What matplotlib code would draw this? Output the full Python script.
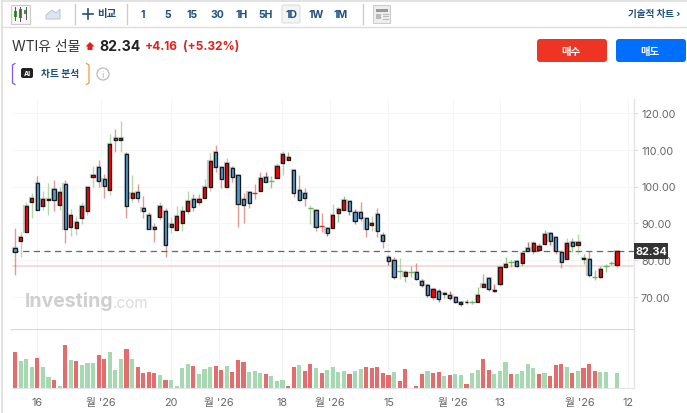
import matplotlib
matplotlib.use("Agg")
import matplotlib.pyplot as plt
from matplotlib.patches import Rectangle, FancyBboxPatch, Circle, Polygon

plt.rcParams['font.family'] = ['Inter', 'Noto Sans CJK KR', 'DejaVu Sans']

opens = [83.2, 85.3, 87.6, 95.8, 101, 94.6, 96.2, 99.3, 95, 100.8,
         88.9, 88.6, 91.5, 93.4, 102.7, 105.3, 102, 99.1, 113.2, 112.7,
         108.9, 97, 98.4, 94.1, 92.2, 88.9, 91.8, 93.3, 89.1, 88.2,
         90, 93.2, 96.7, 95.8, 97, 99.8, 109.4, 105.3, 99.8, 105,
         103, 96.5, 98.4, 98.2, 98.7, 102.5, 101.4, 102.2, 106.3, 107.2,
         104.4, 99.1, 98.2, 94.2, 93.7, 89.2, 88.6, 88.6, 92.7, 93.6,
         96, 93, 93.1, 91.5, 89.6, 92.4, 86.7, 80.7, 80, 77,
         75.6, 76.6, 76.6, 74.3, 73.3, 69.9, 71.7, 70.7, 70.4, 70,
         68.1, 68.5, 68.6, 68.7, 72.6, 75, 71.9, 73.6, 78.1, 79.4,
         79.6, 79.1, 83.2, 82.5, 82.8, 84.3, 87.3, 86.2, 82.1, 80.3,
         84.8, 84.2, 80.3, 80.3, 75.4, 75.3, 78.3, 79.1, 78.7]
closes = [82.1, 86.2, 94.6, 97, 93.6, 96.5, 96.5, 96.2, 98.4, 88.4,
          92.3, 90.4, 94.6, 99.8, 103.2, 101.5, 100.2, 111.7, 112.7, 113.2,
          94.6, 98.1, 96.8, 93.2, 88.3, 88.3, 94.8, 84.1, 89.8, 92.1,
          93.2, 96, 94.5, 96.5, 100, 107, 105.4, 102.1, 106.5, 102.5,
          95.3, 95, 95.6, 98.2, 102.4, 101.2, 101.4, 105.6, 108.9, 108,
          98.3, 96.4, 96.8, 94.2, 88.9, 89.2, 87.4, 92.3, 93.8, 96.2,
          93.2, 90.7, 91.4, 88.3, 90.2, 87.9, 85.1, 79.6, 75.5, 77,
          76.6, 76.6, 74.9, 73.3, 70.5, 72.1, 69.3, 70.9, 69.6, 68.7,
          68.7, 68.7, 68.6, 70.5, 73.6, 72.2, 71.5, 78.1, 78.8, 79.4,
          78.3, 81.9, 82.5, 84.5, 83.8, 87.2, 85.3, 82.5, 79.4, 84.5,
          83.8, 84.8, 80.5, 75.9, 75.4, 77.5, 78.3, 79.1, 82.4]
highs = [88.6, 87.5, 95.9, 98.2, 102.9, 98.7, 101, 101.9, 99.9, 101.9,
         93.9, 92.1, 95.7, 99.8, 105.7, 107.1, 103.4, 114.3, 115.6, 117.7,
         109.5, 103.1, 100.7, 97.3, 93, 90.2, 95.7, 94.2, 91.6, 94.6,
         94.6, 98.8, 98, 98, 102, 109.1, 111.3, 105.3, 107.8, 105.7,
         103, 98.2, 98.9, 100.7, 103.9, 103.9, 102.8, 106.4, 109.7, 109.5,
         104.8, 103.1, 99.7, 95, 93.7, 92.8, 88.9, 95.2, 94.3, 97.3,
         96, 93.9, 95.7, 91.5, 92, 94.1, 87.5, 81.4, 80.7, 80.5,
         77.3, 78.5, 79.1, 74.8, 73.5, 72.5, 72.1, 71.2, 71.7, 70.3,
         68.9, 69.4, 69.1, 72.6, 76.3, 75.3, 73.5, 78.1, 80.7, 80.1,
         80.1, 82.3, 84.8, 85.3, 84.5, 88.2, 87.5, 86.4, 82.8, 85.9,
         85.9, 87.1, 81.6, 82.4, 77.3, 78.5, 78.9, 79.6, 82.5]
lows = [75.9, 80.8, 87.6, 91.4, 93.6, 93.6, 92.3, 93.2, 93.7, 84.6,
        86.6, 86.8, 89.8, 92.2, 99.8, 100, 96.9, 97.8, 109.3, 109.5,
        91.3, 95.7, 95.9, 91.3, 88.3, 85, 90.9, 80.9, 87.4, 88.2,
        88, 92.5, 93.2, 95, 97, 98.9, 103.9, 99.7, 99.8, 101.3,
        89.1, 90.2, 94.2, 96.6, 98.7, 101.1, 99.7, 102.2, 103.1, 107.2,
        97.2, 96, 94.8, 89.8, 88, 87.5, 86.6, 88.6, 90.4, 93.6,
        92.2, 89.9, 90.7, 86.2, 87.8, 86.2, 83.4, 78.7, 74.9, 74.8,
        73.9, 75.5, 74.6, 72.7, 69.8, 69.2, 68.7, 69.7, 69.1, 68.2,
        67.4, 68, 68.1, 68.7, 72.6, 71.7, 71.2, 72.8, 77.9, 78.1,
        78, 78.3, 82.5, 81.6, 82.4, 84.3, 84.2, 81.6, 77.9, 80.3,
        82.1, 81.6, 78.9, 75.5, 74.5, 75, 76.8, 78.6, 77.8]
wick_kinds = ("rgggrggrgr" "gggggrrgrg" "rgrrrrgrgg" "ggrgggrrgr" "rrrrrrgggg"
              "rrrgrrrggg" "rrrrgrrrrg" "ggrrrgrgrr" "rggggrrggg" "rgrgggrrrg"
              "gggrggggg")

volumes = [108, 80, 87, 61, 90, 61, 32, 24, 6, 129, 82, 79, 69, 74, 74, 98, 85, 108, 53, 85,
           117, 85, 61, 45, 48, 45, 37, 24, 24, 6, 58, 72, 66, 42, 56, 63, 66, 53, 66,
           48, 82, 77, 48, 51, 45, 42, 35, 19, 24, 6, 63, 69, 51, 72, 58, 45, 53, 63, 48,
           51, 42, 51, 56, 61, 58, 63, 45, 37, 48, 19, 56, 0, 6, 40, 51, 45, 48, 35, 37, 40,
           37, 11, 45, 53, 87, 53, 42, 51, 77, 42, 40, 51, 72, 58, 40, 45, 35, 69, 72, 63,
           45, 51, 58, 72, 51, 48, 48, 0, 45]
vol_kinds = ("rgggrggrgr" "grgggrrggg" "rgrrrrgrgg" "ggrggg" "rrg"
             "rrrgggrgg" "grrgrrgrgg" "ggrggrrrrr" "grrrrrgrrg" "r"
             "ggrggrrgggrggggrgrrrgrgrrrggrg")[:109]

last_price = 82.34
prev_line = 78.3
price_ticks = [70, 80, 90, 100, 110, 120]
time_pos = [4, 15.4, 28, 36.6, 47.9, 56.5, 67, 78.6, 87, 101.4, 110]
time_labels = ["16", "월 '26", "20", "월 '26", "18", "월 '26", "15", "월 '26", "13", "월 '26", "12"]
intervals = ["1", "5", "15", "30", "1H", "5H", "1D", "1W", "1M"]
interval_x = [143, 168, 192, 217, 242, 266, 291, 316, 341]

W, H = 687, 414
fig = plt.figure(figsize=(W / 100, H / 100), dpi=100, facecolor="white")


def px_axes(x0, y0, x1, y1):
    return fig.add_axes([x0 / W, 1 - y1 / H, (x1 - x0) / W, (y1 - y0) / H])


def y_of(p):
    return 120 - (p - 114) / 3.675


xlim = (-0.54, 111.05)
ax = px_axes(12, 100, 634, 330.5)
vol = px_axes(12, 330.5, 634, 388.5)

ax.set_xlim(xlim)
ax.set_ylim(y_of(330.5), y_of(100))
vol.set_xlim(xlim)
vol.set_ylim(0, 174)

for p in price_ticks:
    ax.axhline(p, color="#f5f5f5", lw=0.8, zorder=0)
for t in time_pos:
    ax.axvline(t, color="#f5f5f5", lw=0.8, zorder=0)
    vol.axvline(t, color="#f2f2f2", lw=0.8, zorder=0)

ax.axhline(prev_line, color="#f9d0d0", lw=1.1, zorder=1)
ax.axhline(last_price, color="#666666", lw=0.9, dashes=(5, 3.5), zorder=2)

wick_col = {"r": "#c0392b", "g": "#6cb35a"}
for i in range(len(opens)):
    o, c = opens[i], closes[i]
    col = wick_col[wick_kinds[i]]
    span = highs[i] - lows[i]
    ax.vlines(i, lows[i], highs[i], color=col, lw=1.0, alpha=0.5 if span > 4 else 0.7, zorder=3)
    if o == c:
        ax.hlines(o, i - 0.5, i + 0.5, color=col, lw=1.0, zorder=4)
    else:
        # soft grey halo round each body, as in the screenshot
        ax.bar(i, abs(c - o), bottom=min(o, c), width=0.62, color="none",
               edgecolor="#888888", linewidth=1.6, alpha=0.45, zorder=4)
        ax.bar(i, abs(c - o), bottom=min(o, c), width=0.56,
               color="#ff0000" if c > o else "#4a9ad4",
               edgecolor="#1a1a1a", linewidth=0.9, zorder=5)

vol_col = {"r": "#e46c6c", "g": "#a6d8b2"}
vol.bar(range(len(volumes)), volumes, width=0.74, color=[vol_col[k] for k in vol_kinds], zorder=2)

for a in (ax, vol):
    for s in ("top", "left"):
        a.spines[s].set_visible(False)
    a.spines["right"].set_color("#e3e3e8")
    a.spines["right"].set_linewidth(1)
ax.spines["bottom"].set_color("#cfcfcf")
ax.spines["bottom"].set_linewidth(1.2)
vol.spines["bottom"].set_color("#e3e3e8")

ax.yaxis.tick_right()
ax.set_yticks(price_ticks, [f"{p:.2f}" for p in price_ticks])
ax.tick_params(axis="y", length=3, width=0.8, color="#dddddd", labelsize=7.8, labelcolor="#666666", pad=2)
ax.set_xticks([])
vol.set_yticks([])
vol.set_xticks(time_pos, time_labels)
vol.tick_params(axis="x", length=0, labelsize=7.8, labelcolor="#666666", pad=7)

# page furniture, in pixels
ov = fig.add_axes([0, 0, 1, 1], facecolor="none")
ov.set_xlim(0, W)
ov.set_ylim(H, 0)
ov.axis("off")

ov.text(25, 302, "Investing", fontsize=14, fontweight="bold", color="#cfcfcf", zorder=0, va="center")
ov.text(113, 304, ".com", fontsize=11, color="#dcdcdc", zorder=0, va="center")

ov.plot([2, 2], [0, H], color="#dddddd", lw=1.2)
ov.plot([2, W], [1.5, 1.5], color="#dddddd", lw=1.2)
ov.plot([2, W], [28, 28], color="#dddddd", lw=1.0)
for x in (74.5, 126.5, 362.5):
    ov.plot([x, x], [5, 25], color="#cccccc", lw=1)

ov.add_patch(Rectangle((10.5, 5.5), 19, 19, fc="#f6f6f6", ec="#cccccc", lw=0.8))
for x, y0, y1, top, bot, c in [(15, 8, 21, 12, 18, "#3a9a3a"), (20, 8, 22, 10, 19, "#e23b2e"), (25.5, 8, 20, 11, 15, "#3a9a3a")]:
    ov.plot([x, x], [y0, y1], color="#555555", lw=0.7)
    ov.add_patch(Rectangle((x - 1.5, top), 3, bot - top, fc=c, ec="none"))
ov.add_patch(Polygon([(46, 20), (46, 16), (52, 11), (56, 14), (60, 10), (60, 20)], fc="#dde6f0", ec="#b4c6da", lw=0.7))

navy = "#1f4f7d"
ov.plot([83, 93], [14.5, 14.5], color=navy, lw=1.2)
ov.plot([88, 88], [9.5, 19.5], color=navy, lw=1.2)
ov.text(107, 14, "비교", fontsize=7.5, fontweight="bold", color=navy, ha="center", va="center")
ov.add_patch(FancyBboxPatch((282, 6), 18, 18, boxstyle="round,pad=0,rounding_size=1.5", fc="#f4f4f4", ec="#dddddd", lw=0.8))
for x, s in zip(interval_x, intervals):
    ov.text(x, 14.5, s, fontsize=7.5, fontweight="bold", color=navy, ha="center", va="center")

ov.add_patch(Rectangle((373, 6), 17, 18, fc="#eeeeee", ec="#cccccc", lw=0.8))
ov.add_patch(Rectangle((376, 10), 12, 2.5, fc="#999999", ec="none"))
ov.add_patch(Rectangle((376, 14.5), 5, 5, fc="#bbbbbb", ec="none"))
for y in (14.5, 17, 19.5):
    ov.plot([382.5, 388], [y, y], color="#bbbbbb", lw=0.8)
ov.text(680, 14, "기술적 차트 ›", fontsize=6.9, fontweight="bold", color=navy, ha="right", va="center")

ov.text(12, 47, "WTI유 선물", fontsize=10, color="#333333", va="center")
ov.add_patch(Polygon([(90, 43), (94.5, 47.5), (92.5, 47.5), (92.5, 51), (87.5, 51), (87.5, 47.5), (85.5, 47.5)], fc="#e0231c", ec="none"))
ov.text(99, 47, "82.34", fontsize=10.1, fontweight="bold", color="#222222", va="center")
ov.text(145, 47, "+4.16", fontsize=8.6, fontweight="bold", color="#e0231c", va="center")
ov.text(183, 47, "(+5.32%)", fontsize=8.6, fontweight="bold", color="#e0231c", va="center")

ov.plot([15, 12.5, 12.5, 15], [64.5, 66, 84, 85.5], color="#7a5cf0", lw=0.9)
ov.plot([86.5, 89, 89, 86.5], [64.5, 66, 84, 85.5], color="#f09a3e", lw=0.9)
ov.add_patch(FancyBboxPatch((21, 69), 12, 10, boxstyle="round,pad=0,rounding_size=2", fc="#222222", ec="none"))
ov.text(27, 74, "AI", fontsize=5, fontweight="bold", color="white", ha="center", va="center")
ov.text(41, 74, "차트 분석", fontsize=7, fontweight="bold", color=navy, va="center")
ov.add_patch(Circle((103, 75), 6, fc="white", ec="#bbbbbb", lw=0.9))
ov.text(103, 75, "i", fontsize=6.5, color="#aaaaaa", ha="center", va="center")

ov.add_patch(FancyBboxPatch((537, 40), 70, 23, boxstyle="round,pad=0,rounding_size=3", fc="#ee3524", ec="none"))
ov.add_patch(FancyBboxPatch((616, 40), 70, 23, boxstyle="round,pad=0,rounding_size=3", fc="#006eff", ec="none"))
ov.text(571, 51.5, "매수", fontsize=7.5, fontweight="bold", color="white", ha="center", va="center")
ov.text(650, 51.5, "매도", fontsize=7.5, fontweight="bold", color="white", ha="center", va="center")

ov.add_patch(Rectangle((634, 244), 34, 16, fc="#333333", ec="none"))
ov.text(651, 252.5, f"{last_price:.2f}", fontsize=7.8, fontweight="bold", color="white", ha="center", va="center")

fig.savefig("out.png", dpi=100)
